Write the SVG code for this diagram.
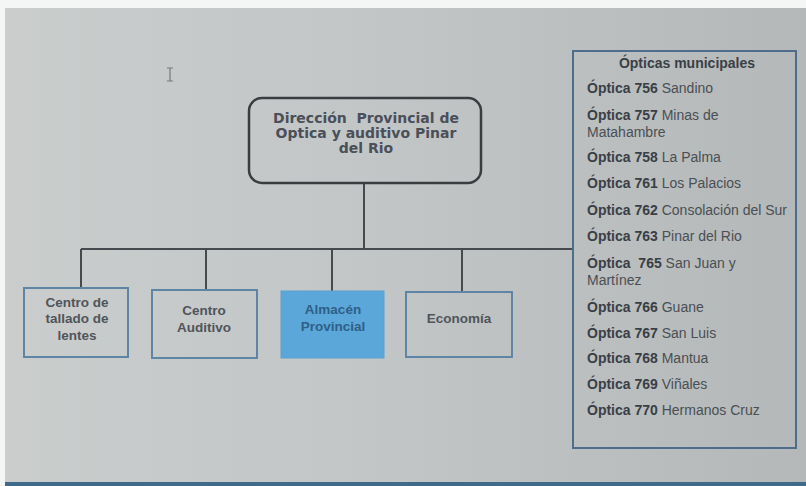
<svg xmlns="http://www.w3.org/2000/svg" width="806" height="486" viewBox="0 0 806 486">
  <defs>
    <linearGradient id="bg" x1="0" y1="0" x2="1" y2="0">
      <stop offset="0" stop-color="#cacdcc"/>
      <stop offset="0.45" stop-color="#c2c6c7"/>
      <stop offset="1" stop-color="#b4b8b8"/>
    </linearGradient>
  </defs>
  <style>
    .conn { stroke: #444a4e; stroke-width: 2; fill: none; }
    .box { fill: none; stroke: #5f85a6; stroke-width: 2; }
    .btxt { font-family: "Liberation Sans", Arial, sans-serif; font-size: 13.5px; font-weight: bold; fill: #50555a; text-anchor: middle; }
    .ttxt { font-family: "DejaVu Sans", Verdana, sans-serif; font-size: 14px; font-weight: bold; fill: #4a4f58; text-anchor: middle; }
    .ltxt { font-family: "Liberation Sans", Arial, sans-serif; font-size: 14px; fill: #4a4f55; }
    .b { font-weight: bold; fill: #3a3f47; }
  </style>
  <rect x="0" y="0" width="806" height="486" fill="#f4f5f5"/>
  <rect x="5" y="8" width="801" height="475" fill="url(#bg)"/>
  <rect x="5" y="482" width="801" height="4" fill="#3f6a8a"/>
  <!-- cursor -->
  <path d="M167 68 h6 M170 68 v13 M167 81 h6" stroke="#777b7e" stroke-width="1.2" fill="none"/>

  <g id="connectors">
    <line class="conn" x1="364" y1="183" x2="364" y2="249"/>
    <line class="conn" x1="81" y1="249" x2="573" y2="249"/>
    <line class="conn" x1="81" y1="249" x2="81" y2="288"/>
    <line class="conn" x1="206" y1="249" x2="206" y2="290"/>
    <line class="conn" x1="332" y1="249" x2="332" y2="291"/>
    <line class="conn" x1="462" y1="249" x2="462" y2="292"/>
  </g>

  <g id="direccion">
    <rect x="249" y="98" width="232" height="85" rx="13" fill="none" stroke="#3a3d40" stroke-width="2.5"/>
    <text class="ttxt" x="366" y="123" xml:space="preserve">Dirección  Provincial de</text>
    <text class="ttxt" x="366" y="138">Optica y auditivo Pinar</text>
    <text class="ttxt" x="366" y="153">del Rio</text>
  </g>

  <g id="centro-tallado">
    <rect class="box" x="24" y="288" width="104" height="69" stroke="#5a7895"/>
    <text class="btxt" x="77" y="307">Centro de</text>
    <text class="btxt" x="77" y="323">tallado de</text>
    <text class="btxt" x="77" y="340">lentes</text>
  </g>

  <g id="centro-auditivo">
    <rect class="box" x="152" y="290" width="105" height="68" stroke="#7097b8"/>
    <text class="btxt" x="204" y="315" fill="#5a5f64">Centro</text>
    <text class="btxt" x="204" y="332" fill="#5a5f64">Auditivo</text>
  </g>

  <g id="almacen">
    <rect x="281" y="291" width="103" height="67" fill="#5ba7d9" stroke="#5aa2d2" stroke-width="1"/>
    <text class="btxt" x="333" y="314" style="fill:#2f5f88">Almacén</text>
    <text class="btxt" x="333" y="331" style="fill:#2f5f88">Provincial</text>
  </g>

  <g id="economia">
    <rect class="box" x="406" y="292" width="106" height="65" stroke="#5e90ba"/>
    <text class="btxt" x="459" y="323" fill="#5a5f64">Economía</text>
  </g>

  <g id="opticas">
    <rect x="573" y="51" width="223" height="397" fill="none" stroke="#4e6d8c" stroke-width="2"/>
    <text class="ltxt b" x="687" y="68" text-anchor="middle">Ópticas municipales</text>
    <text class="ltxt" x="587" y="93"><tspan class="b">Óptica 756 </tspan>Sandino</text>
    <text class="ltxt" x="587" y="120"><tspan class="b">Óptica 757 </tspan>Minas de</text>
    <text class="ltxt" x="587" y="137">Matahambre</text>
    <text class="ltxt" x="587" y="162"><tspan class="b">Óptica 758 </tspan>La Palma</text>
    <text class="ltxt" x="587" y="188"><tspan class="b">Óptica 761 </tspan>Los Palacios</text>
    <text class="ltxt" x="587" y="215"><tspan class="b">Óptica 762 </tspan>Consolación del Sur</text>
    <text class="ltxt" x="587" y="241"><tspan class="b">Óptica 763 </tspan>Pinar del Rio</text>
    <text class="ltxt" x="587" y="268" xml:space="preserve"><tspan class="b">Óptica  765 </tspan>San Juan y</text>
    <text class="ltxt" x="587" y="285">Martínez</text>
    <text class="ltxt" x="587" y="312"><tspan class="b">Óptica 766 </tspan>Guane</text>
    <text class="ltxt" x="587" y="338"><tspan class="b">Óptica 767 </tspan>San Luis</text>
    <text class="ltxt" x="587" y="363"><tspan class="b">Óptica 768 </tspan>Mantua</text>
    <text class="ltxt" x="587" y="389"><tspan class="b">Óptica 769 </tspan>Viñales</text>
    <text class="ltxt" x="587" y="415"><tspan class="b">Óptica 770 </tspan>Hermanos Cruz</text>
  </g>
</svg>
